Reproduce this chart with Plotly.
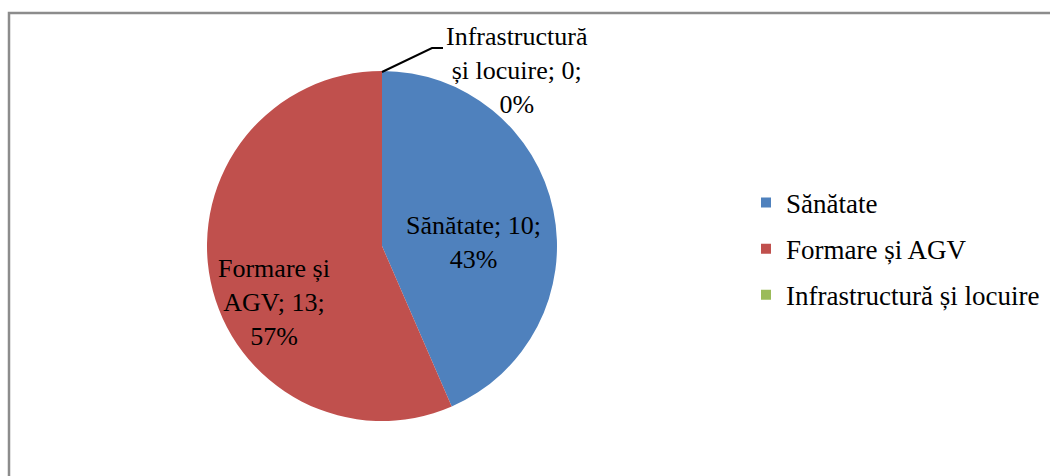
import plotly.graph_objects as go

categories = ["Sănătate", "Formare și AGV", "Infrastructură și locuire"]
values = [10, 13, 0]
colors = ["#4F81BD", "#C0504D", "#9BBB59"]
label_lines = [["Sănătate; {v};", "{p}%"], ["Formare și", "AGV; {v};", "{p}%"], ["Infrastructură", "și locuire; {v};", "{p}%"]]

W, H = 1050, 476
FONT = "Liberation Serif"
FS_LABEL = 26
FS_LEGEND = 27

def px(x, y):
    return x / W, 1 - y / H

total = sum(values)
pcts = [round(v / total * 100) for v in values]

fig = go.Figure()
cx0, cy0 = px(207, 71)
cx1, cy1 = px(557, 421)
fig.add_trace(go.Pie(
    labels=categories, values=values, sort=False, direction="clockwise", rotation=0,
    marker=dict(colors=colors, line=dict(width=0)), textinfo="none", hoverinfo="label+value+percent",
    showlegend=False, domain=dict(x=[cx0, cx1], y=[cy1, cy0])
))

for c, col in zip(categories, colors):
    fig.add_trace(go.Scatter(x=[None], y=[None], mode="markers", name=c, legendgroup=c,
                             marker=dict(symbol="square", size=10, color=col)))

# slice labels
label_pos = [(474, 243), (274, 302), (517, 70)]
for lines, v, p, (x, y) in zip(label_lines, values, pcts, label_pos):
    txt = "<br>".join(l.format(v=v, p=p) for l in lines)
    ax, ay = px(x, y)
    fig.add_annotation(x=ax, y=ay, xref="paper", yref="paper", text=txt, showarrow=False,
                       font=dict(family=FONT, size=FS_LABEL, color="#000000"), align="center",
                       xanchor="center", yanchor="middle")

# leader line for zero slice
p0 = px(382, 72); p1 = px(432, 48); p2 = px(443, 48)
fig.add_shape(type="path", xref="paper", yref="paper",
              path=f"M {p0[0]} {p0[1]} L {p1[0]} {p1[1]} L {p2[0]} {p2[1]}",
              line=dict(color="#000000", width=2))

# outer border
b0 = px(9, 13)
fig.add_shape(type="rect", xref="paper", yref="paper", x0=b0[0], y0=-0.05, x1=1.05, y1=b0[1],
              line=dict(color="#8C8C8C", width=2.5))

fig.update_layout(
    width=W, height=H, margin=dict(l=0, r=0, t=0, b=0),
    paper_bgcolor="white", plot_bgcolor="white",
    xaxis=dict(visible=False), yaxis=dict(visible=False),
    legend=dict(x=px(746, 0)[0], y=px(0, 249)[1], xanchor="left", yanchor="middle",
                font=dict(family=FONT, size=FS_LEGEND, color="#000000"), tracegroupgap=8,
                bgcolor="rgba(0,0,0,0)"),
    font=dict(family=FONT),
)

fig.write_html("out.html", config={"displayModeBar": False},
               post_script="document.body.style.margin='0';document.body.style.overflow='hidden';")
